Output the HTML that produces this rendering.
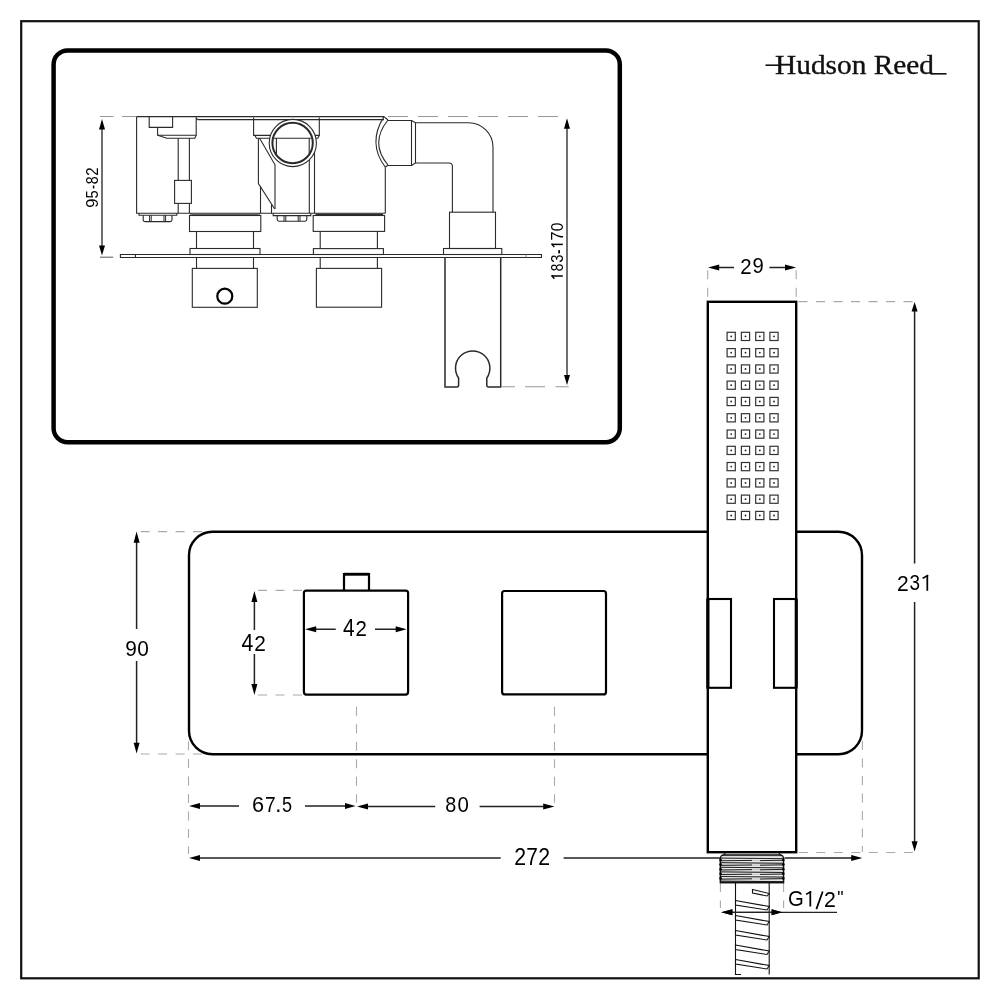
<!DOCTYPE html>
<html><head><meta charset="utf-8"><style>
html,body{margin:0;padding:0;background:#fff;width:1000px;height:1000px;overflow:hidden}
svg{display:block;will-change:transform}
text{font-family:"Liberation Sans",sans-serif;fill:#000;stroke:#fff;stroke-width:0.15px;paint-order:fill}
text.g{font-size:100px;stroke:none}
</style></head><body>
<svg width="1000" height="1000" viewBox="0 0 1000 1000">
<rect x="0" y="0" width="1000" height="1000" fill="#fff"/>
<!-- outer frame -->
<rect x="21.2" y="21.2" width="957.5" height="957.1" fill="none" stroke="#111" stroke-width="2.2"/>
<!-- inset -->
<rect x="53.6" y="50.4" width="566.2" height="391.9" rx="14" ry="14" fill="none" stroke="#000" stroke-width="4.5"/>

<!-- logo -->
<g id="logo">
<text x="775" y="74" textLength="159" lengthAdjust="spacingAndGlyphs" style="font-family:'Liberation Serif',serif;font-size:27px;fill:#111;stroke:#111;stroke-width:0.35">Hudson Reed</text>
<path d="M765.5,65.2 H781" stroke="#111" stroke-width="1.6"/>
<path d="M931,73.8 H946.5" stroke="#111" stroke-width="1.6"/>
</g>

<!-- SIDE VIEW -->
<g id="side" fill="none" stroke="#2a2a2a" stroke-width="1.1">
 <path d="M136.6,116.6 H384"/>
 <path d="M197.6,119.6 H384"/>
 <path d="M149.2,116.6 V127.4 H172.6 V116.6"/>
 <path d="M157.6,127.4 V135.2 H196.2 V117.8 L197.6,119.6"/>
 <path d="M157.6,135.2 L166.8,138.2 H194.8 L196.2,135.2"/>
 <path d="M136.6,116.6 V213.3 H385.3"/>
 <path d="M178.2,138.2 V180.4 M178.2,203.4 V213.3"/>
 <path d="M189.4,138.2 V180.4 M189.4,203.4 V213.3"/>
 <rect x="174.6" y="180.4" width="16.8" height="23"/>
 <path d="M139,213.3 V215.2 H176.8 V213.3"/>
 <path d="M143.2,215.2 V220 Q143.2,221.6 145,221.6 H170.2 Q172,221.6 172,220 V215.2"/>
 <path d="M149.6,215.2 V221.6 M151.2,215.2 V221.6 M164,215.2 V221.6 M165.6,215.2 V221.6" stroke-width="1"/>
 <!-- port block -->
 <path d="M253.6,117.6 V135.4 H319.3 V117.6"/>
 <path d="M255,135.4 L256.4,138.2 H317.8 L319.3,135.4"/>
 <path d="M258.4,138.2 V183.5 L274.7,209"/>
 <path d="M259.6,138.2 L275,164.8 V209"/>
 <path d="M260.5,186 V213.3"/>
 <path d="M271.5,204.7 V213.3"/>
 <path d="M309.3,150 V213.3"/>
 <path d="M314.5,143 V213.3"/>
 <circle cx="292.8" cy="143" r="23.6" fill="#fff"/>
 <circle cx="292.6" cy="143" r="20.2" stroke-width="2"/>
 <path d="M274,138.2 H311"/>
 <path d="M276.4,138.2 V155 M309.2,138.2 V154.5"/>
 <!-- nut 2 -->
 <path d="M273.2,213.3 V215.6 H310.8 V213.3"/>
 <path d="M277.2,215.6 V219.6 Q277.2,221.2 279,221.2 H305 Q306.8,221.2 306.8,219.6 V215.6"/>
 <path d="M284,215.6 V221.2 M285.8,215.6 V221.2 M298.2,215.6 V221.2 M300,215.6 V221.2" stroke-width="1"/>
 <!-- right body & arc -->
 <path d="M385.3,167.2 V213.3"/>
 <path d="M384,116.6 Q367.2,143.1 385.3,167.2"/>
 <path d="M388,120 Q369.4,143 388,165"/>
 <path d="M384,116.6 L388,120 M385.3,167.2 L388,165"/>
 <path d="M388,120.5 H411.5 V165.5 H388"/>
 <path d="M411.5,120.5 L415.5,122.8 V163 L411.5,165.5"/>
 <path d="M415.5,122.8 H468.5 A24.5,24.5 0 0 1 493,147.3 V212.2"/>
 <path d="M415.5,163 H449 Q452.4,163 452.4,166.4 V212.2"/>
 <rect x="449.5" y="212.2" width="46" height="36.3"/>
 <rect x="443.5" y="248.5" width="58.3" height="6"/>
 <!-- plate -->
 <path d="M120.4,254.5 H541.5 V257.5 H120.4 Z"/>
 <path d="M135.4,254.5 V257.5"/><path d="M526.2,254.5 V257.5" stroke="#888"/>
 <!-- handle 1 -->
 <path d="M191,213.3 V215.2 M259,213.3 V215.2"/>
 <path d="M192,215.1 H258" stroke-width="1.7"/>
 <rect x="189.5" y="215.5" width="71.3" height="16"/>
 <path d="M196.5,231.5 V248.5 M253.5,231.5 V248.5"/>
 <rect x="190" y="248.5" width="70" height="6"/>
 <path d="M196.5,257.5 V268.4 M253.5,257.5 V268.4"/>
 <rect x="192.3" y="268.4" width="65" height="38.9"/>
 <circle cx="224.8" cy="296.2" r="7.5" stroke="#000" stroke-width="2.2"/>
 <!-- handle 2 -->
 <path d="M315.5,214.6 H383" stroke-width="1.9"/>
 <rect x="313.2" y="215.5" width="71.4" height="15.9"/>
 <path d="M320.2,231.4 V248.6 M377.4,231.4 V248.6"/>
 <rect x="313.4" y="248.6" width="70" height="5.9"/>
 <path d="M320.2,257.5 V268.4 M377.4,257.5 V268.4"/>
 <rect x="316.4" y="268.4" width="65.2" height="38.8"/>
 <!-- bracket -->
 <path d="M445,257.5 V387 H457 Q458.6,387 458.6,385 V378 A17.2,17.2 0 1 1 486.8,378 V385 Q486.8,387 488.6,387 H500.7 V257.5" stroke-width="1.5"/>
</g>

<!-- side dims -->
<g id="sidedims">
 <g stroke="#999" stroke-width="1.1">
  <path d="M100,116.5 H113.5 M122,116.5 H136"/>
  <path d="M388,116.5 H408 M418,116.5 H438 M448,116.5 H468 M478,116.5 H498 M508,116.5 H528 M538,116.5 H558"/>
  <path d="M501,386.8 H515 M525,386.8 H545 M555.5,386.8 H568.7"/>
  <path d="M100,257.2 H113.2" stroke="#666"/>
 </g>
 <g stroke="#333" stroke-width="1.4">
  <path d="M102,125 V250"/>
  <path d="M567,125 V380"/>
 </g>
 <g fill="#000">
  <polygon points="102,119 99,129.5 105,129.5"/>
  <polygon points="102,255.6 99,245.4 105,245.4"/>
  <polygon points="567,118.2 564,128.8 570,128.8"/>
  <polygon points="567,385.1 564,375 570,375"/>
 </g>
 <g id="rlabels"><text transform="matrix(0,-0.1652,0.1620,0,97.74,207.83)" class="g">9</text><text transform="matrix(0,-0.1468,0.1614,0,97.74,198.59)" class="g">5</text><text transform="matrix(0,-0.1200,0.1875,0,98.51,189.08)" class="g">-</text><text transform="matrix(0,-0.1426,0.1620,0,97.74,184.37)" class="g">8</text><text transform="matrix(0,-0.1500,0.1643,0,97.90,175.75)" class="g">2</text><path d="M551.60,276.00 H562.80" stroke="#000" stroke-width="1.5" fill="none"/><path d="M551.60,275.25 L554.30,278.70" stroke="#000" stroke-width="1.42" fill="none"/><text transform="matrix(0,-0.1362,0.1577,0,562.64,271.24)" class="g">8</text><text transform="matrix(0,-0.1489,0.1577,0,562.64,262.70)" class="g">3</text><text transform="matrix(0,-0.1360,0.2250,0,564.78,253.94)" class="g">-</text><path d="M551.60,244.40 H562.80" stroke="#000" stroke-width="1.5" fill="none"/><path d="M551.60,243.65 L554.30,247.10" stroke="#000" stroke-width="1.42" fill="none"/><text transform="matrix(0,-0.1630,0.1647,0,562.96,240.62)" class="g">7</text><text transform="matrix(0,-0.1562,0.1577,0,562.64,231.22)" class="g">0</text></g>
</g>

<!-- FRONT VIEW -->
<g id="front" fill="none" stroke="#000">
 <rect x="189" y="531.8" width="673" height="222.4" rx="23.5" ry="23.5" stroke-width="2.4"/>
 <rect x="303.9" y="590.7" width="104.2" height="103.9" rx="2.5" stroke-width="2.2"/>
 <path d="M344,590.7 V574.2 H369 V590.7" stroke-width="2.2"/>
 <path d="M344,574.2 H369" stroke-width="2.8"/>
 <rect x="502.1" y="591" width="103.9" height="103.4" rx="2.5" stroke-width="2.2"/>
 <rect x="707.8" y="301.8" width="88.4" height="550.4" fill="#fff" stroke-width="2.4"/>
 <rect x="707.6" y="599" width="23.4" height="88.8" stroke-width="2.1"/>
 <rect x="774" y="599" width="22.2" height="88.8" stroke-width="2.1"/>
 <path d="M708,599 V687.8 M796.2,599 V687.8" stroke-width="3"/>
</g>
<g id="nozzles" fill="none" stroke="#333" stroke-width="1.2"><rect x="727.1" y="332.3" width="8.2" height="8.2"/><rect x="741.4" y="332.3" width="8.2" height="8.2"/><rect x="755.7" y="332.3" width="8.2" height="8.2"/><rect x="769.9" y="332.3" width="8.2" height="8.2"/><rect x="727.1" y="348.6" width="8.2" height="8.2"/><rect x="741.4" y="348.6" width="8.2" height="8.2"/><rect x="755.7" y="348.6" width="8.2" height="8.2"/><rect x="769.9" y="348.6" width="8.2" height="8.2"/><rect x="727.1" y="364.9" width="8.2" height="8.2"/><rect x="741.4" y="364.9" width="8.2" height="8.2"/><rect x="755.7" y="364.9" width="8.2" height="8.2"/><rect x="769.9" y="364.9" width="8.2" height="8.2"/><rect x="727.1" y="381.1" width="8.2" height="8.2"/><rect x="741.4" y="381.1" width="8.2" height="8.2"/><rect x="755.7" y="381.1" width="8.2" height="8.2"/><rect x="769.9" y="381.1" width="8.2" height="8.2"/><rect x="727.1" y="397.4" width="8.2" height="8.2"/><rect x="741.4" y="397.4" width="8.2" height="8.2"/><rect x="755.7" y="397.4" width="8.2" height="8.2"/><rect x="769.9" y="397.4" width="8.2" height="8.2"/><rect x="727.1" y="413.7" width="8.2" height="8.2"/><rect x="741.4" y="413.7" width="8.2" height="8.2"/><rect x="755.7" y="413.7" width="8.2" height="8.2"/><rect x="769.9" y="413.7" width="8.2" height="8.2"/><rect x="727.1" y="430.0" width="8.2" height="8.2"/><rect x="741.4" y="430.0" width="8.2" height="8.2"/><rect x="755.7" y="430.0" width="8.2" height="8.2"/><rect x="769.9" y="430.0" width="8.2" height="8.2"/><rect x="727.1" y="446.3" width="8.2" height="8.2"/><rect x="741.4" y="446.3" width="8.2" height="8.2"/><rect x="755.7" y="446.3" width="8.2" height="8.2"/><rect x="769.9" y="446.3" width="8.2" height="8.2"/><rect x="727.1" y="462.5" width="8.2" height="8.2"/><rect x="741.4" y="462.5" width="8.2" height="8.2"/><rect x="755.7" y="462.5" width="8.2" height="8.2"/><rect x="769.9" y="462.5" width="8.2" height="8.2"/><rect x="727.1" y="478.8" width="8.2" height="8.2"/><rect x="741.4" y="478.8" width="8.2" height="8.2"/><rect x="755.7" y="478.8" width="8.2" height="8.2"/><rect x="769.9" y="478.8" width="8.2" height="8.2"/><rect x="727.1" y="495.1" width="8.2" height="8.2"/><rect x="741.4" y="495.1" width="8.2" height="8.2"/><rect x="755.7" y="495.1" width="8.2" height="8.2"/><rect x="769.9" y="495.1" width="8.2" height="8.2"/><rect x="727.1" y="511.4" width="8.2" height="8.2"/><rect x="741.4" y="511.4" width="8.2" height="8.2"/><rect x="755.7" y="511.4" width="8.2" height="8.2"/><rect x="769.9" y="511.4" width="8.2" height="8.2"/></g><g fill="#222"><circle cx="731.2" cy="336.4" r="0.9"/><circle cx="745.5" cy="336.4" r="0.9"/><circle cx="759.8" cy="336.4" r="0.9"/><circle cx="774.0" cy="336.4" r="0.9"/><circle cx="731.2" cy="352.7" r="0.9"/><circle cx="745.5" cy="352.7" r="0.9"/><circle cx="759.8" cy="352.7" r="0.9"/><circle cx="774.0" cy="352.7" r="0.9"/><circle cx="731.2" cy="369.0" r="0.9"/><circle cx="745.5" cy="369.0" r="0.9"/><circle cx="759.8" cy="369.0" r="0.9"/><circle cx="774.0" cy="369.0" r="0.9"/><circle cx="731.2" cy="385.2" r="0.9"/><circle cx="745.5" cy="385.2" r="0.9"/><circle cx="759.8" cy="385.2" r="0.9"/><circle cx="774.0" cy="385.2" r="0.9"/><circle cx="731.2" cy="401.5" r="0.9"/><circle cx="745.5" cy="401.5" r="0.9"/><circle cx="759.8" cy="401.5" r="0.9"/><circle cx="774.0" cy="401.5" r="0.9"/><circle cx="731.2" cy="417.8" r="0.9"/><circle cx="745.5" cy="417.8" r="0.9"/><circle cx="759.8" cy="417.8" r="0.9"/><circle cx="774.0" cy="417.8" r="0.9"/><circle cx="731.2" cy="434.1" r="0.9"/><circle cx="745.5" cy="434.1" r="0.9"/><circle cx="759.8" cy="434.1" r="0.9"/><circle cx="774.0" cy="434.1" r="0.9"/><circle cx="731.2" cy="450.4" r="0.9"/><circle cx="745.5" cy="450.4" r="0.9"/><circle cx="759.8" cy="450.4" r="0.9"/><circle cx="774.0" cy="450.4" r="0.9"/><circle cx="731.2" cy="466.6" r="0.9"/><circle cx="745.5" cy="466.6" r="0.9"/><circle cx="759.8" cy="466.6" r="0.9"/><circle cx="774.0" cy="466.6" r="0.9"/><circle cx="731.2" cy="482.9" r="0.9"/><circle cx="745.5" cy="482.9" r="0.9"/><circle cx="759.8" cy="482.9" r="0.9"/><circle cx="774.0" cy="482.9" r="0.9"/><circle cx="731.2" cy="499.2" r="0.9"/><circle cx="745.5" cy="499.2" r="0.9"/><circle cx="759.8" cy="499.2" r="0.9"/><circle cx="774.0" cy="499.2" r="0.9"/><circle cx="731.2" cy="515.5" r="0.9"/><circle cx="745.5" cy="515.5" r="0.9"/><circle cx="759.8" cy="515.5" r="0.9"/><circle cx="774.0" cy="515.5" r="0.9"/></g>

<!-- front dims -->
<g id="frontdims">
 <g stroke="#aaa" stroke-width="1.1" stroke-dasharray="9,8.5">
  <path d="M140.6,531.6 H210"/>
  <path d="M140.6,754 H210"/>
  <path d="M258,590.4 H302"/>
  <path d="M258,695 H302"/>
  <path d="M188.5,741.6 V854"/>
  <path d="M356.5,706.8 V802.8"/>
  <path d="M554.5,706.8 V802.8"/>
  <path d="M862.4,741 V852"/>
  <path d="M707.7,270.3 V301"/>
  <path d="M796.2,270.3 V301"/>
  <path d="M798.5,301.6 H915"/>
  <path d="M798.8,852.5 H915"/>
  <path d="M720.4,883 V908"/>
  <path d="M783.6,883 V908"/>
 </g>
 <g stroke="#222" stroke-width="1.5">
  <path d="M136.6,540 V629 M136.6,661 V745"/>
  <path d="M254.4,600 V630 M254.4,654 V686"/>
  <path d="M314,629.3 H335.7 M375,629.3 H397"/>
  <path d="M198,806 H239 M305,806 H347"/>
  <path d="M366,806.4 H435.2 M479.6,806.4 H545"/>
  <path d="M198,858 H500.7 M563.6,858 H720.4 M784.4,858 H853"/>
  <path d="M717,267.5 H734 M769.4,267.5 H787"/>
  <path d="M914.6,310 V563.6 M914.6,602 V843"/>
  <path d="M730,912.4 H837" stroke-width="1.2"/>
 </g>
 <g fill="#000">
  <polygon points="136.6,531.6 133.6,542.7 139.6,542.7"/>
  <polygon points="136.6,753.6 133.6,742.8 139.6,742.8"/>
  <polygon points="254.4,591 251.4,602 257.4,602"/>
  <polygon points="254.4,695 251.4,684 257.4,684"/>
  <polygon points="305,629.3 316.2,626.3 316.2,632.3"/>
  <polygon points="406.6,629.3 395.7,626.3 395.7,632.3"/>
  <polygon points="189,806 200,803 200,809"/>
  <polygon points="355.6,806 345,803 345,809"/>
  <polygon points="357,806.4 368,803.4 368,809.4"/>
  <polygon points="554.5,806.4 543.2,803.4 543.2,809.4"/>
  <polygon points="189,858 200,855 200,861"/>
  <polygon points="862.3,858 851.2,855 851.2,861"/>
  <polygon points="708,267.5 719.2,264.5 719.2,270.5"/>
  <polygon points="796.2,267.5 785,264.5 785,270.5"/>
  <polygon points="914.6,302 911.6,311.5 917.6,311.5"/>
  <polygon points="914.6,851.5 911.6,841.3 917.6,841.3"/>
  <polygon points="721.2,912.3 732.4,909.3 732.4,915.3"/>
  <polygon points="782,912.3 771.6,909.3 771.6,915.3"/>
 </g>
 <g id="labels"><text transform="matrix(0.2087,0,0,0.2211,125.16,655.58)" class="g">9</text><text transform="matrix(0.2083,0,0,0.2211,137.27,655.58)" class="g">0</text><text transform="matrix(0.2137,0,0,0.2309,241.57,650.93)" class="g">4</text><text transform="matrix(0.2087,0,0,0.2243,254.26,650.70)" class="g">2</text><text transform="matrix(0.2098,0,0,0.2324,342.88,636.03)" class="g">4</text><text transform="matrix(0.2043,0,0,0.2257,355.38,635.80)" class="g">2</text><text transform="matrix(0.2174,0,0,0.2211,251.91,811.78)" class="g">6</text><text transform="matrix(0.1913,0,0,0.2250,265.04,812.02)" class="g">7</text><text transform="matrix(0.2200,0,0,0.2455,275.32,812.00)" class="g">.</text><text transform="matrix(0.1809,0,0,0.2214,282.08,811.78)" class="g">5</text><text transform="matrix(0.1979,0,0,0.2197,445.31,811.58)" class="g">8</text><text transform="matrix(0.2042,0,0,0.2197,457.38,811.58)" class="g">0</text><text transform="matrix(0.2130,0,0,0.2300,514.13,864.90)" class="g">2</text><text transform="matrix(0.2087,0,0,0.2338,526.16,864.93)" class="g">7</text><text transform="matrix(0.2130,0,0,0.2300,538.13,864.90)" class="g">2</text><text transform="matrix(0.2043,0,0,0.2243,740.28,273.70)" class="g">2</text><text transform="matrix(0.2022,0,0,0.2211,752.39,273.48)" class="g">9</text><text transform="matrix(0.2109,0,0,0.2243,897.05,590.70)" class="g">2</text><text transform="matrix(0.1894,0,0,0.2211,909.44,590.48)" class="g">3</text><path d="M927.30,575.20 V590.80" stroke="#000" stroke-width="1.75" fill="none"/><path d="M928.17,575.20 L922.60,578.40" stroke="#000" stroke-width="1.66" fill="none"/><text transform="matrix(0.2031,0,0,0.2127,788.08,906.29)" class="g">G</text><path d="M810.30,891.50 V906.50" stroke="#000" stroke-width="1.75" fill="none"/><path d="M811.17,891.50 L806.00,894.40" stroke="#000" stroke-width="1.66" fill="none"/><path d="M816.4,909.1 L822.7,891.5" stroke="#000" stroke-width="1.75" fill="none"/><text transform="matrix(0.2130,0,0,0.2157,823.93,906.50)" class="g">2</text><text transform="matrix(0.1778,0,0,0.1864,837.19,904.36)" class="g">&quot;</text></g>
</g>

<!-- connector & hose -->
<g id="hose">
 <path d="M725.5,853.2 L722.5,856.2 M778.8,853.2 L781.5,856.2" fill="none" stroke="#111" stroke-width="1.1"/>
 <path d="M720.3,882.5 V859 Q720.3,855 724.3,855 H779.6 Q783.6,855 783.6,859 V882.5 Z" fill="#c4c4c4" stroke="#111" stroke-width="1.4"/>
<g stroke="#fff" stroke-width="0.8"><path d="M721.5,856.9 L782.5,857.2"/><path d="M721.5,859.2 L782.5,859.5"/><path d="M721.5,861.5 L782.5,861.8"/><path d="M721.5,863.8 L782.5,864.1"/><path d="M721.5,866.1 L782.5,866.4"/><path d="M721.5,868.4 L782.5,868.7"/><path d="M721.5,870.7 L782.5,871.0"/><path d="M721.5,873.0 L782.5,873.3"/><path d="M721.5,875.3 L782.5,875.6"/><path d="M721.5,877.6 L782.5,877.9"/><path d="M721.5,879.9 L782.5,880.2"/></g><g stroke="#000" stroke-width="0.85"><path d="M721,858.1 L783,858.7"/><path d="M721,860.8 L752,860.4 M760,860.6 L783,860.2"/><path d="M721,862.7 L783,863.3"/><path d="M721,865.4 L752,865.0 M760,865.2 L783,864.8"/><path d="M721,867.3 L783,867.9"/><path d="M721,870.0 L752,869.6 M760,869.8 L783,869.4"/><path d="M721,871.9 L783,872.5"/><path d="M721,874.6 L752,874.2 M760,874.4 L783,874.0"/><path d="M721,876.5 L783,877.1"/><path d="M721,879.2 L752,878.8 M760,879.0 L783,878.6"/><path d="M721,881.1 L783,881.7"/></g><g fill="#000"><circle cx="720.6" cy="860.0" r="1.3"/><circle cx="783.3" cy="860.0" r="1.3"/><circle cx="720.6" cy="864.6" r="1.3"/><circle cx="783.3" cy="864.6" r="1.3"/><circle cx="720.6" cy="869.2" r="1.3"/><circle cx="783.3" cy="869.2" r="1.3"/><circle cx="720.6" cy="873.8" r="1.3"/><circle cx="783.3" cy="873.8" r="1.3"/><circle cx="720.6" cy="878.4" r="1.3"/><circle cx="783.3" cy="878.4" r="1.3"/></g>
 <path d="M720.3,882.5 H783.6" stroke="#111" stroke-width="1.3"/>
 <g fill="none" stroke="#111" stroke-width="1.1">
  <path d="M735.5,882.5 V974.5 H741"/>
  <path d="M769.2,882.5 V974.5"/>
 </g>
 <g id="coils" fill="#fff" stroke="#111" stroke-width="1.1"><path d="M752.5,889.5 L769.2,893.5 L767,896 L752.5,893 Z"/><path d="M735.5,900.5 L769.2,906.5 L767,910.0 L735.5,905.0 Z"/><path d="M735.5,915.5 L769.2,921.5 L767,925.0 L735.5,920.0 Z"/><path d="M735.5,930.5 L769.2,936.5 L767,940.0 L735.5,935.0 Z"/><path d="M735.5,945.0 L769.2,951.0 L767,954.5 L735.5,949.5 Z"/><path d="M735.5,959.5 L769.2,965.5 L767,969.0 L735.5,964.0 Z"/></g>
 <path d="M730,912.4 H772" stroke="#222" stroke-width="1.2"/><polygon points="721.2,912.3 732.4,909.3 732.4,915.3" fill="#000"/><polygon points="782,912.3 771.6,909.3 771.6,915.3" fill="#000"/>
</g>
</svg>

</body></html>
